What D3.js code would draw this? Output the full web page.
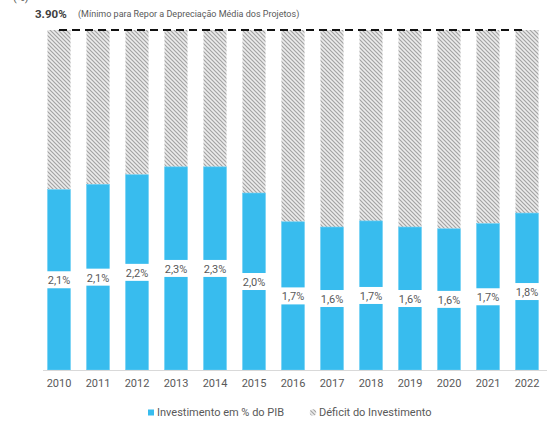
<!DOCTYPE html>
<html>
<head>
<meta charset="utf-8">
<script src="https://cdn.jsdelivr.net/npm/d3@7"></script>
<style>
  html, body { margin: 0; padding: 0; background: #fff; }
  svg { display: block; font-family: Roboto, 'Noto Sans', sans-serif; }
</style>
</head>
<body>
<div class="canvas"></div>
<script>
const years = ['2010', '2011', '2012', '2013', '2014', '2015', '2016', '2017', '2018', '2019', '2020', '2021', '2022'];
const investment = [2.07, 2.13, 2.24, 2.33, 2.33, 2.03, 1.70, 1.64, 1.71, 1.64, 1.62, 1.68, 1.80];
const minimum = 3.9;
const seriesNames = ['Investimento em % do PIB', 'Déficit do Investimento'];

const dims = { width: 547, height: 421 };
const blue = '#38bcee';
const textGrey = '#595959';

const svg = d3
  .select('.canvas')
  .append('svg')
  .attr('width', dims.width)
  .attr('height', dims.height);

// hatch pattern for the deficit part (diagonal stripes)
const defs = svg.append('defs');
const hatch = defs
  .append('pattern')
  .attr('id', 'hatch')
  .attr('patternUnits', 'userSpaceOnUse')
  .attr('width', 4)
  .attr('height', 4);
hatch.append('rect').attr('width', 4).attr('height', 4).attr('fill', '#ececec');
hatch
  .append('path')
  .attr('d', 'M-1,3 l2,2 M0,0 l4,4 M3,-1 l2,2')
  .attr('stroke', '#a3a3a3')
  .attr('stroke-width', 1.2);

const x = d3
  .scaleBand()
  .domain(years)
  .range([39.5, 546.5])
  .paddingInner(0.41)
  .paddingOuter(0.205);

const y = d3.scaleLinear().domain([0, minimum]).range([370, 30]);

const data = years.map((yr, i) => ({ year: yr, value: investment[i] }));

// deficit (hatched) from value up to minimum
svg
  .append('g')
  .selectAll('rect')
  .data(data)
  .enter()
  .append('rect')
  .attr('x', (d) => x(d.year))
  .attr('width', x.bandwidth())
  .attr('y', y(minimum))
  .attr('height', (d) => y(d.value) - y(minimum))
  .attr('fill', 'url(#hatch)');

// investment bars
svg
  .append('g')
  .selectAll('rect')
  .data(data)
  .enter()
  .append('rect')
  .attr('x', (d) => x(d.year))
  .attr('width', x.bandwidth())
  .attr('y', (d) => y(d.value))
  .attr('height', (d) => y(0) - y(d.value))
  .attr('fill', blue)
  .attr('stroke', '#6fd0f4')
  .attr('stroke-width', 0.6);

// baseline
svg
  .append('line')
  .attr('x1', 43)
  .attr('x2', dims.width)
  .attr('y1', y(0) + 0.5)
  .attr('y2', y(0) + 0.5)
  .attr('stroke', '#d9d9d9')
  .attr('stroke-width', 1);

// value labels in a white box at the middle of each bar
const labels = svg
  .append('g')
  .selectAll('g')
  .data(data)
  .enter()
  .append('g')
  .attr('transform', (d) => `translate(${x(d.year) + x.bandwidth() / 2}, ${(y(d.value) + y(0)) / 2})`);

labels
  .append('rect')
  .attr('x', -x.bandwidth() / 2 - 1)
  .attr('y', -8.5)
  .attr('width', x.bandwidth() + 2)
  .attr('height', 17)
  .attr('fill', '#fff');

labels
  .append('text')
  .attr('text-anchor', 'middle')
  .attr('y', 4.5)
  .attr('font-size', 11)
  .attr('fill', textGrey)
  .text((d) => d3.format('.1f')(d.value).replace('.', ',') + '%');

// dashed minimum line
svg
  .append('line')
  .attr('x1', x(years[0]) + x.bandwidth() / 2)
  .attr('x2', x(years[years.length - 1]) + x.bandwidth() / 2)
  .attr('y1', y(minimum))
  .attr('y2', y(minimum))
  .attr('stroke', '#111')
  .attr('stroke-width', 2)
  .attr('stroke-dasharray', '8,5');

// x axis labels
svg
  .append('g')
  .selectAll('text')
  .data(years)
  .enter()
  .append('text')
  .attr('x', (d) => x(d) + x.bandwidth() / 2)
  .attr('y', 387)
  .attr('text-anchor', 'middle')
  .attr('font-size', 11)
  .attr('fill', textGrey)
  .text((d) => d);

// top annotation (unit label sits partly above the frame, as in the source)
svg
  .append('text')
  .attr('x', 13)
  .attr('y', 1)
  .attr('font-size', 11)
  .attr('fill', textGrey)
  .text('(%)');

svg
  .append('text')
  .attr('x', 35)
  .attr('y', 18)
  .attr('font-size', 11.5)
  .attr('font-weight', 'bold')
  .attr('fill', '#404040')
  .text('3.90%');

svg
  .append('text')
  .attr('x', 78)
  .attr('y', 17)
  .attr('font-size', 9)
  .attr('fill', textGrey)
  .text('(Mínimo para Repor a Depreciação Média dos Projetos)');

// legend
const legend = svg.append('g').attr('transform', 'translate(148, 416)');
legend
  .append('rect')
  .attr('x', 0)
  .attr('y', -6.5)
  .attr('width', 6)
  .attr('height', 6)
  .attr('fill', blue);
legend
  .append('text')
  .attr('x', 9)
  .attr('y', 0)
  .attr('font-size', 11)
  .attr('fill', textGrey)
  .text(seriesNames[0]);
legend
  .append('circle')
  .attr('cx', 165)
  .attr('cy', -3.5)
  .attr('r', 3.2)
  .attr('fill', 'url(#hatch)');
legend
  .append('text')
  .attr('x', 171)
  .attr('y', 0)
  .attr('font-size', 11)
  .attr('fill', textGrey)
  .text(seriesNames[1]);
</script>
</body>
</html>
